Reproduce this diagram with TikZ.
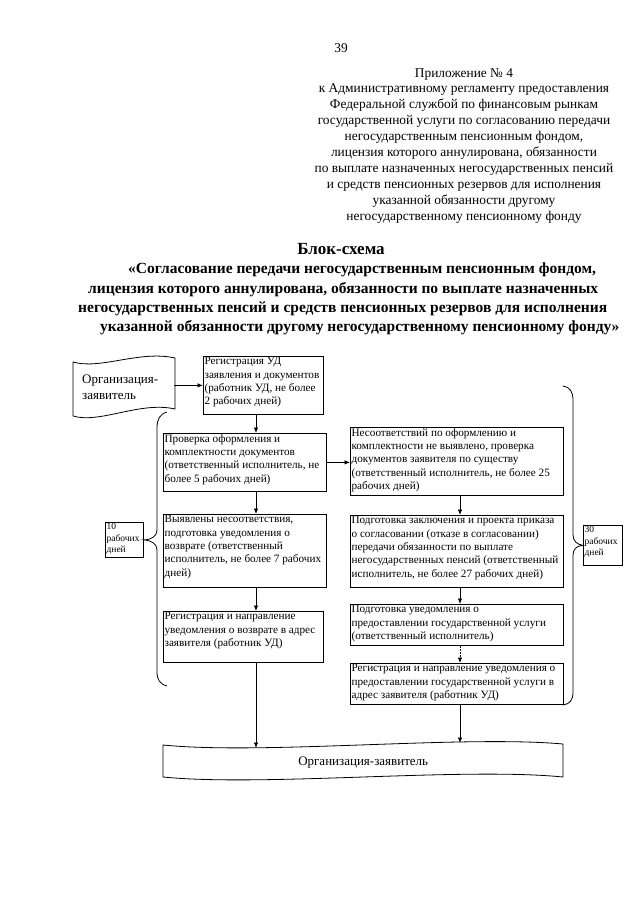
\documentclass[tikz,border=0pt]{standalone}
\usepackage{fontspec}
\setmainfont{Liberation Serif}
\usetikzlibrary{arrows.meta}
\newcommand{\boxtxt}[3]{\parbox[c][#2][t]{#1}{\raggedright #3}}
\begin{document}
\begin{tikzpicture}[x=1pt,y=-1pt,
  lw/.style={line width=0.8pt},
  arr/.style={line width=0.8pt,-{Latex[length=5.5pt,width=4.5pt]}},
  bx/.style={draw,line width=0.8pt,rectangle,inner sep=1.2pt,anchor=north west,font=\fontsize{11.2}{13.3}\selectfont},
  sbx/.style={draw,line width=0.8pt,rectangle,inner sep=1.2pt,anchor=north west,font=\fontsize{9.5}{11.5}\selectfont},
  hd/.style={anchor=base,inner sep=0pt,font=\fontsize{13.4}{16}\selectfont},
  tl/.style={anchor=base west,inner sep=0pt,font=\fontsize{15.5}{19}\selectfont\bfseries},
]
\useasboundingbox (0,0) rectangle (640,905);

% header
\node[hd] (pg) at (341,52) {39};
\node[hd] (h1) at (464,77) {Приложение № 4};
\node[hd] (h2) at (464,92.9) {к Административному регламенту предоставления};
\node[hd] (h3) at (464,108.8) {Федеральной службой по финансовым рынкам};
\node[hd] (h4) at (464,124.7) {государственной услуги по согласованию передачи};
\node[hd] (h5) at (464,140.6) {негосударственным пенсионным фондом,};
\node[hd] (h6) at (464,156.5) {лицензия которого аннулирована, обязанности};
\node[hd] (h7) at (464,172.4) {по выплате назначенных негосударственных пенсий};
\node[hd] (h8) at (464,188.3) {и средств пенсионных резервов для исполнения};
\node[hd] (h9) at (464,204.2) {указанной обязанности другому};
\node[hd] (h10) at (464,220.1) {негосударственному пенсионному фонду};

% title
\node[anchor=base,inner sep=0pt,font=\fontsize{17}{20}\selectfont\bfseries] (tt) at (341,254) {Блок-схема};
\node[tl] (t1) at (128,273) {«Согласование передачи негосударственным пенсионным фондом,};
\node[tl] (t2) at (88,293) {лицензия которого аннулирована, обязанности по выплате назначенных};
\node[tl] (t3) at (78,312) {негосударственных пенсий и средств пенсионных резервов для исполнения};
\node[tl] (t4) at (100,331) {указанной обязанности другому негосударственному пенсионному фонду»};

% top document shape
\draw[lw] (73,362) .. controls (100,370) and (140,350) .. (175,358) -- (175,409)
  .. controls (140,401) and (100,424) .. (73,416) -- cycle;
\node[anchor=north west,inner xsep=9pt,inner ysep=0pt,text width=83pt,minimum height=52pt,align=left,font=\fontsize{13}{16}\selectfont] (doc1) at (73,361) {Организация-\\заявитель};

% boxes
\node[bx] (A) at (203,356) {\boxtxt{117.6pt}{55.6pt}{Регистрация УД\\заявления и документов\\(работник УД, не более\\2 рабочих дней)}};
\node[bx] (B) at (163,433) {\boxtxt{160.6pt}{55.6pt}{Проверка оформления и\\комплектности документов\\(ответственный исполнитель, не\\более 5 рабочих дней)}};
\node[bx] (C) at (350,427) {\boxtxt{210.6pt}{65.6pt}{Несоответствий по оформлению и\\комплектности не выявлено, проверка\\документов заявителя по существу\\(ответственный исполнитель, не более 25\\рабочих дней)}};
\node[bx] (D) at (163,514) {\boxtxt{160.6pt}{70.6pt}{Выявлены несоответствия,\\подготовка уведомления о\\возврате (ответственный\\исполнитель, не более 7 рабочих\\дней)}};
\node[bx] (E) at (163,611) {\boxtxt{157.6pt}{48.6pt}{Регистрация и направление\\уведомления о возврате в адрес\\заявителя (работник УД)}};
\node[bx] (F) at (350,515) {\boxtxt{210.6pt}{69.6pt}{Подготовка заключения и проекта приказа\\о согласовании (отказе в согласовании)\\передачи обязанности по выплате\\негосударственных пенсий (ответственный\\исполнитель, не более 27 рабочих дней)}};
\node[bx] (G) at (350,604) {\boxtxt{210.6pt}{38.6pt}{Подготовка уведомления о\\предоставлении государственной услуги\\(ответственный исполнитель)}};
\node[bx] (H) at (350,663) {\boxtxt{210.6pt}{38.6pt}{Регистрация и направление уведомления о\\предоставлении государственной услуги в\\адрес заявителя (работник УД)}};

% side boxes
\node[sbx] (ten) at (105,522) {\boxtxt{35.6pt}{32.6pt}{10\\рабочих\\дней}};
\node[sbx] (thirty) at (583,525) {\boxtxt{36.6pt}{37.6pt}{30\\рабочих\\дней}};

% braces
\draw[lw] (167,412) .. controls (160,414) and (157,419) .. (157,428) -- (157,530)
  .. controls (157,536) and (152,539.5) .. (ten.east)
  .. controls (152,540.5) and (157,544) .. (157,550) -- (157,672)
  .. controls (157,680) and (160,684) .. (167,686);
\draw[lw] (563,386) .. controls (570,387) and (573,392) .. (573,400) -- (573,535)
  .. controls (573,541) and (577,544.5) .. (thirty.west)
  .. controls (577,545.5) and (573,549) .. (573,555) -- (573,692)
  .. controls (573,700) and (570,704) .. (563,705);

% bottom document shape
\draw[lw] (163,745) .. controls (263,755) and (463,735) .. (563,744) -- (563,777)
  .. controls (463,767) and (263,787) .. (163,777) -- cycle;
\node[anchor=north west,minimum width=400pt,minimum height=32pt,inner sep=0pt,font=\fontsize{13}{16}\selectfont] (bdoc) at (163,746) {Организация-заявитель};

% connectors
\coordinate (lc) at (256,0);
\coordinate (rc) at (460,0);
\draw[arr] (A.west -| doc1.east) -- (A.west);
\draw[arr] (lc |- A.south) -- (lc |- B.north);
\draw[arr] (B.east) -- (B.east -| C.west);
\draw[arr] (lc |- B.south) -- (lc |- D.north);
\draw[arr] (lc |- D.south) -- (lc |- E.north);
\draw[arr,shorten >=-2pt] (lc |- E.south) -- (lc |- bdoc.north);
\draw[arr] (rc |- C.south) -- (rc |- F.north);
\draw[arr] (rc |- F.south) -- (rc |- G.north);
\draw[arr,dash pattern=on 2pt off 1.2pt] (rc |- G.south) -- (rc |- H.north);
\draw[arr,shorten >=3pt] (rc |- H.south) -- (rc |- bdoc.north);
\end{tikzpicture}
\end{document}
